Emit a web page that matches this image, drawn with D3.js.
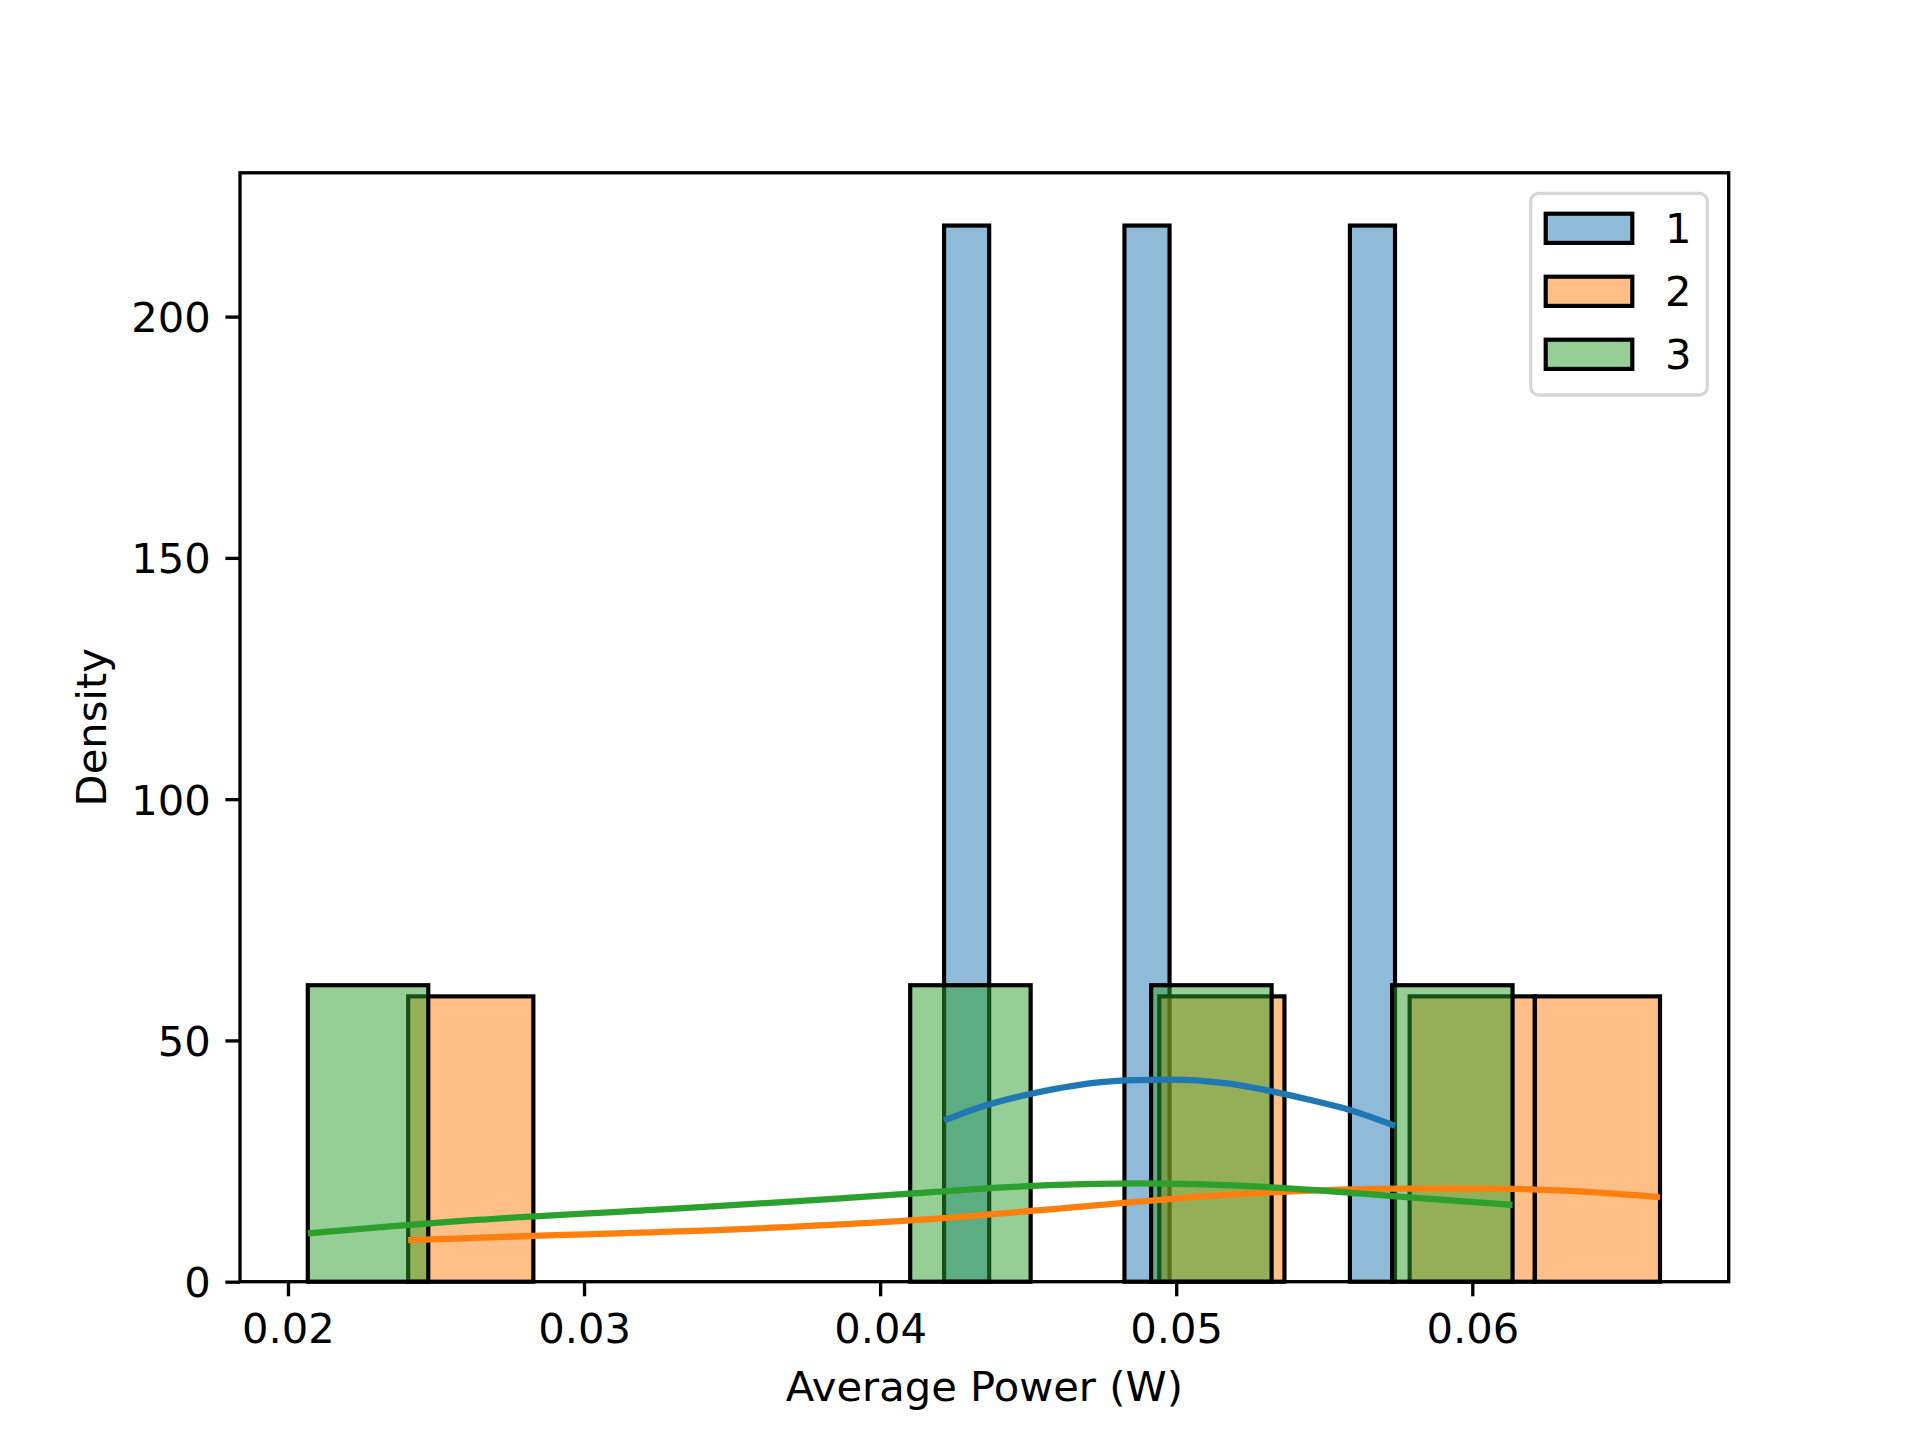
<!DOCTYPE html>
<html>
<head>
<meta charset="utf-8">
<script src="https://cdn.jsdelivr.net/npm/d3@7"></script>
<style>
  body { margin: 0; background: #fff; }
  svg { display: block; font-family: "DejaVu Sans", sans-serif; }
</style>
</head>
<body>
<svg id="chart" width="1920" height="1440"></svg>
<script>
// groups (hue levels)
var groups = ["1", "2", "3"];
var colors = ["#1f77b4", "#ff7f0e", "#2ca02c"];

// raw observations per group (Average Power, W)
var power1 = [0.04216, 0.0495, 0.05739];
var power2 = [0.02406, 0.0515, 0.0600, 0.06634];
var power3 = [0.02067, 0.0430, 0.0510, 0.06136];

// kde curves: x (W) and density
var kde1X = [0.04216, 0.04360, 0.04506, 0.04652, 0.04827, 0.04990, 0.05159, 0.05328, 0.05463, 0.05581, 0.05739];
var kde1Y = [33.4, 36.6, 38.9, 40.6, 41.7, 41.9, 41.2, 39.4, 37.5, 35.7, 32.3];
var kde2X = [0.02406, 0.02831, 0.03531, 0.04127, 0.04574, 0.04872, 0.05170, 0.05468, 0.05766, 0.06065, 0.06363, 0.06634];
var kde2Y = [8.6, 9.5, 10.9, 12.8, 15.0, 16.6, 18.0, 18.9, 19.3, 19.3, 18.7, 17.5];
var kde3X = [0.02067, 0.02637, 0.03233, 0.03829, 0.04276, 0.04573, 0.04872, 0.05170, 0.05468, 0.05766, 0.06136];
var kde3Y = [10.0, 12.8, 14.9, 17.1, 19.0, 20.0, 20.4, 20.0, 19.0, 17.6, 15.9];

var xTicks = [0.02, 0.03, 0.04, 0.05, 0.06];
var yTicks = [0, 50, 100, 150, 200];
var xDomain = [0.01838, 0.06866];
var yDomain = [0, 229.8];

var xLabel = "Average Power (W)";
var yLabel = "Density";
var nBins = 10;

var svg = d3.select("#chart");
var mLeft = 240, mRight = 1728.7, mTop = 172.8, mBottom = 1281.7;
var fs = 41.67;

var x = d3.scaleLinear().domain(xDomain).range([mLeft, mRight]);
var y = d3.scaleLinear().domain(yDomain).range([mBottom, mTop]);

var powers = [power1, power2, power3];
var kdes = [[kde1X, kde1Y], [kde2X, kde2Y], [kde3X, kde3Y]];

// histogram bars, group 1 first so later groups sit on top
powers.forEach(function(vals, gi){
  var lo = d3.min(vals), hi = d3.max(vals);
  var w = (hi - lo) / nBins;
  var edges = d3.range(1, nBins).map(function(i){ return lo + i * w; });
  var bins = d3.bin().domain([lo, hi]).thresholds(edges)(vals);
  bins = bins.filter(function(b){ return b.length > 0; });
  svg.append("g").selectAll("rect").data(bins).enter().append("rect")
    .attr("x", function(b){ return x(b.x0); })
    .attr("y", function(b){ return y(b.length / (vals.length * w)); })
    .attr("width", function(b){ return x(b.x1) - x(b.x0); })
    .attr("height", function(b){ return y(0) - y(b.length / (vals.length * w)); })
    .attr("fill", colors[gi])
    .attr("fill-opacity", 0.5)
    .attr("stroke", "#000")
    .attr("stroke-width", 4.17);
});

// kde lines
var line = d3.line().x(function(d){ return x(d[0]); }).y(function(d){ return y(d[1]); })
  .curve(d3.curveMonotoneX);
kdes.forEach(function(k, gi){
  var pts = k[0].map(function(v, i){ return [v, k[1][i]]; });
  svg.append("path").datum(pts)
    .attr("d", line)
    .attr("fill", "none")
    .attr("stroke", colors[gi])
    .attr("stroke-width", 6.25);
});

// axes
var xAxis = svg.append("g").attr("transform", "translate(0," + mBottom + ")")
  .call(d3.axisBottom(x).tickValues(xTicks).tickFormat(d3.format(".2f")).tickSize(14.6).tickPadding(14.6));
var yAxis = svg.append("g").attr("transform", "translate(" + mLeft + ",0)")
  .call(d3.axisLeft(y).tickValues(yTicks).tickFormat(d3.format("d")).tickSize(14.6).tickPadding(14.6));

[xAxis, yAxis].forEach(function(a){
  a.select(".domain").remove();
  a.selectAll(".tick line").attr("stroke", "#000").attr("stroke-width", 3.33);
  a.selectAll(".tick text").attr("font-size", fs).attr("font-family", "DejaVu Sans").attr("fill", "#000");
});
xAxis.selectAll(".tick text").attr("dy", null).attr("y", 61);
yAxis.selectAll(".tick text").attr("dy", null).attr("y", 15);

// frame
svg.append("rect")
  .attr("x", mLeft).attr("y", mTop)
  .attr("width", mRight - mLeft).attr("height", mBottom - mTop)
  .attr("fill", "none").attr("stroke", "#000").attr("stroke-width", 3.33);

// axis labels
svg.append("text")
  .attr("x", (mLeft + mRight) / 2).attr("y", 1401)
  .attr("text-anchor", "middle").attr("font-size", fs)
  .text(xLabel);
svg.append("text")
  .attr("transform", "translate(106," + ((mTop + mBottom) / 2) + ") rotate(-90)")
  .attr("text-anchor", "middle").attr("font-size", fs)
  .text(yLabel);

// legend
var legend = svg.append("g");
legend.append("rect")
  .attr("x", 1530.7).attr("y", 193.3).attr("width", 176.6).attr("height", 201.7)
  .attr("rx", 8).attr("ry", 8)
  .attr("fill", "#fff").attr("fill-opacity", 0.8)
  .attr("stroke", "#cccccc").attr("stroke-opacity", 0.8).attr("stroke-width", 3.33);
var items = legend.selectAll("g.item").data(groups).enter().append("g")
  .attr("transform", function(d, i){ return "translate(0," + (228.3 + i * 63) + ")"; });
items.append("rect")
  .attr("x", 1545.7).attr("y", -14.6).attr("width", 86.6).attr("height", 29.2)
  .attr("fill", function(d, i){ return colors[i]; })
  .attr("fill-opacity", 0.5)
  .attr("stroke", "#000").attr("stroke-width", 4.17);
items.append("text")
  .attr("x", 1665).attr("y", 15)
  .attr("font-size", fs)
  .text(function(d){ return d; });
</script>
</body>
</html>
